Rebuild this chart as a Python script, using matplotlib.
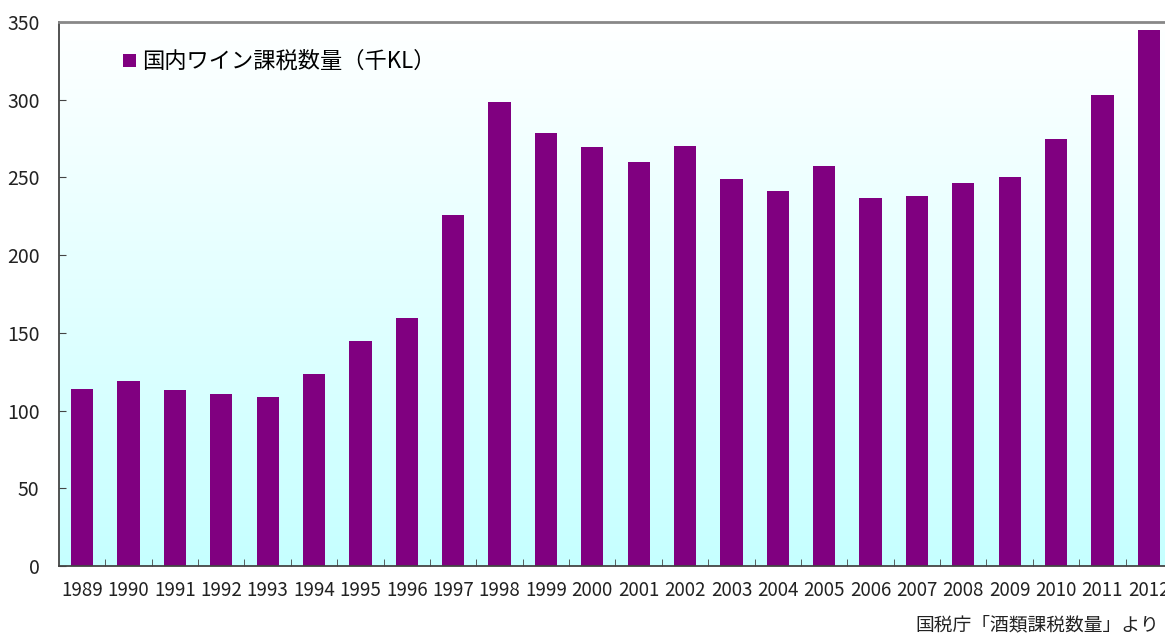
import numpy as np
import matplotlib
matplotlib.use('Agg')
from matplotlib import pyplot as plt
from matplotlib.colors import LinearSegmentedColormap

plt.rcParams['font.family'] = ['Noto Sans CJK JP', 'DejaVu Sans']

# Datos
anios = [str(a) for a in range(1989, 2013)]
volumen = [113.9, 119.0, 113.3, 110.7, 108.7, 123.5, 144.8, 159.6, 225.9, 298.6,
           278.6, 269.6, 260.0, 270.3, 249.0, 241.3, 257.4, 236.8, 238.1, 246.5,
           250.3, 274.8, 303.0, 344.9]
etiqueta = '国内ワイン課税数量（千KL）'
fuente = '国税庁「酒類課税数量」より'
yticks = [0, 50, 100, 150, 200, 250, 300, 350]

fig = plt.figure(figsize=(11.65, 6.35), dpi=100)
ax = fig.add_axes([0.0506, 0.1087, 0.9554, 0.8567])

x = np.arange(len(anios))
ax.set_xlim(-0.5, len(anios) - 0.5)
ax.set_ylim(0, 350)

# Fondo degradado blanco -> cian
cmap = LinearSegmentedColormap.from_list('fondo', ['#c6ffff', '#ffffff'])
grad = np.linspace(0, 1, 256).reshape(-1, 1)
ax.imshow(grad, cmap=cmap, aspect='auto', origin='lower',
          extent=[-0.5, len(anios) - 0.5, 0, 350], zorder=0)

ax.bar(x, volumen, width=0.48, color='#800080', zorder=2, label=etiqueta)

ax.set_xticks(x)
ax.set_xticklabels(anios, fontsize=13.5, color='#222222')
ax.set_xticks(np.arange(len(anios)) + 0.5, minor=True)
ax.tick_params(axis='x', which='major', length=0, pad=10)
ax.tick_params(axis='x', which='minor', direction='in', length=5, color='#444444')
ax.set_yticks(yticks)
ax.set_yticklabels([str(v) for v in yticks], fontsize=14, color='#222222')
ax.tick_params(axis='y', direction='in', length=5, color='#444444', pad=14)

for lado in ['left', 'bottom']:
    ax.spines[lado].set_color('#444444')
    ax.spines[lado].set_linewidth(1.3)
ax.spines['top'].set_color('#888888')
ax.spines['top'].set_linewidth(2)
ax.spines['right'].set_visible(False)

ax.legend(loc='upper left', bbox_to_anchor=(0.04, 0.985), frameon=False,
          fontsize=16, handlelength=0.55, handleheight=0.55, handletextpad=0.3)

fig.text(0.995, 0.0, fuente, ha='right', va='bottom', fontsize=13.5, color='#222222')

plt.savefig('out.png', dpi=100)
